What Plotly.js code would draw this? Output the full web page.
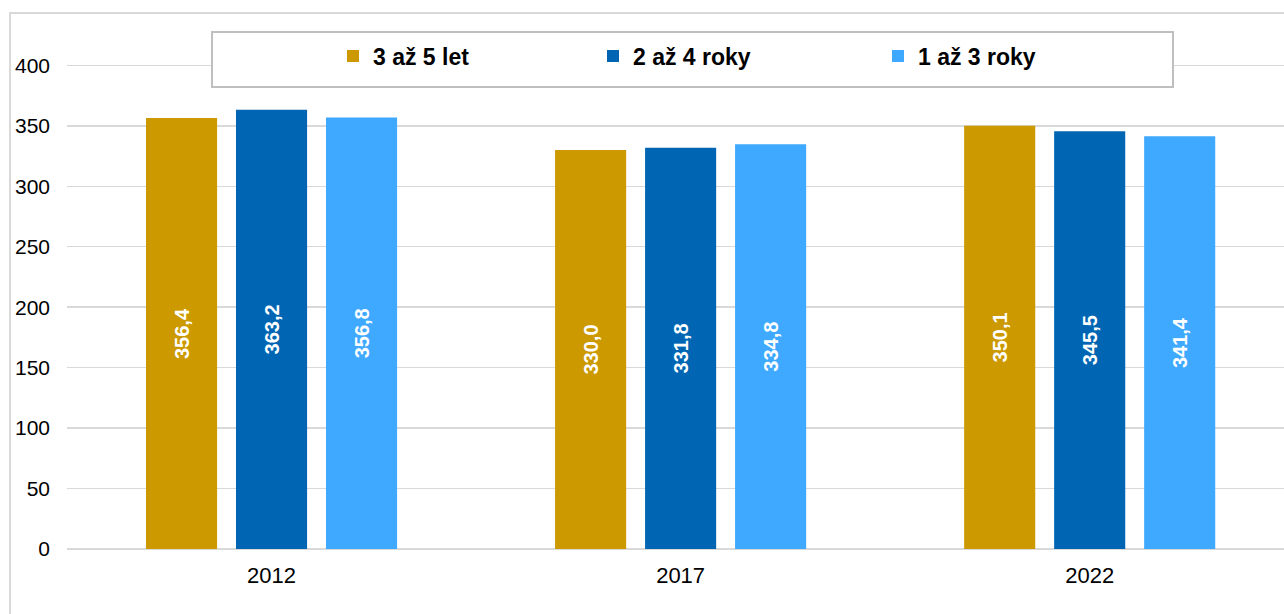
<!DOCTYPE html>
<html>
<head>
<meta charset="utf-8">
<script src="https://cdn.plot.ly/plotly-3.0.1.min.js"></script>
<style>
html,body{margin:0;padding:0;background:#fff;overflow:hidden;}
#frame{position:absolute;left:9px;top:12px;width:1300px;height:640px;border:2px solid #d9d9d9;box-sizing:border-box;pointer-events:none;z-index:5;}
#chart{position:absolute;left:0;top:0;width:1284px;height:614px;}
</style>
</head>
<body>
<div id="chart"></div>
<div id="frame"></div>
<script>
const categories = ['2012', '2017', '2022'];
const seriesNames = ['3 až 5 let', '2 až 4 roky', '1 až 3 roky'];
const vals35 = [356.4, 330.0, 350.1];
const vals24 = [363.2, 331.8, 345.5];
const vals13 = [356.8, 334.8, 341.4];
const colors = ['#CC9900', '#0066B3', '#3FA9FF'];
const yTicks = [0, 50, 100, 150, 200, 250, 300, 350, 400];

const fmt = v => v.toFixed(1).replace('.', ',');
const seriesVals = [vals35, vals24, vals13];
const legendWidths = [215, 240, 240];

const traces = seriesVals.map((vals, i) => ({
  type: 'bar',
  name: seriesNames[i],
  x: categories,
  y: vals,
  marker: {color: colors[i], line: {width: 0}},
  text: vals.map(fmt),
  textposition: 'inside',
  insidetextanchor: 'middle',
  textangle: -90,
  textfont: {family: 'Liberation Sans, Arial, sans-serif', size: 20, color: '#ffffff', weight: 'bold'},
  legendwidth: legendWidths[i],
  hoverinfo: 'skip'
}));

const L = 67, W = 1284, T = 17, B = 65, H = 614;
const PH = H - T - B;
const py = p => (H - B - p) / PH;   // pixel y -> paper y
const px = p => (p - L) / (W - L);  // pixel x -> paper x

const layout = {
  width: W,
  height: H,
  margin: {l: L, r: 0, t: T, b: B, pad: 0},
  paper_bgcolor: '#ffffff',
  plot_bgcolor: '#ffffff',
  barmode: 'group',
  bargap: 0.34,
  bargroupgap: 0.21,
  font: {family: 'Liberation Sans, Arial, sans-serif', color: '#000000'},
  xaxis: {
    type: 'category',
    range: [-0.5, 2.475],
    showgrid: false,
    zeroline: false,
    showline: false,
    ticks: '',
    tickfont: {size: 22, color: '#000000'},
    ticklabelstandoff: 11
  },
  yaxis: {
    range: [0, 440],
    tickvals: yTicks,
    ticktext: yTicks.map(String),
    showgrid: true,
    gridcolor: '#d9d9d9',
    gridwidth: 1.5,
    zeroline: true,
    zerolinecolor: '#d9d9d9',
    zerolinewidth: 2.5,
    showline: false,
    ticks: '',
    tickfont: {size: 21, color: '#000000'},
    ticklabelstandoff: 16
  },
  showlegend: true,
  legend: {
    orientation: 'h',
    x: px(333),
    y: py(56),
    xanchor: 'left',
    yanchor: 'middle',
    bgcolor: 'rgba(0,0,0,0)',
    borderwidth: 0,
    itemwidth: 30,
    traceorder: 'normal',
    font: {size: 23, color: '#000000', weight: 'bold'}
  },
  shapes: [{
    type: 'rect',
    xref: 'paper', yref: 'paper',
    x0: px(212), x1: px(1173),
    y0: py(87), y1: py(32),
    fillcolor: '#ffffff',
    line: {color: '#bfbfbf', width: 2},
    layer: 'above'
  }]
};

Plotly.newPlot('chart', traces, layout, {displayModeBar: false, staticPlot: true});
</script>
</body>
</html>
